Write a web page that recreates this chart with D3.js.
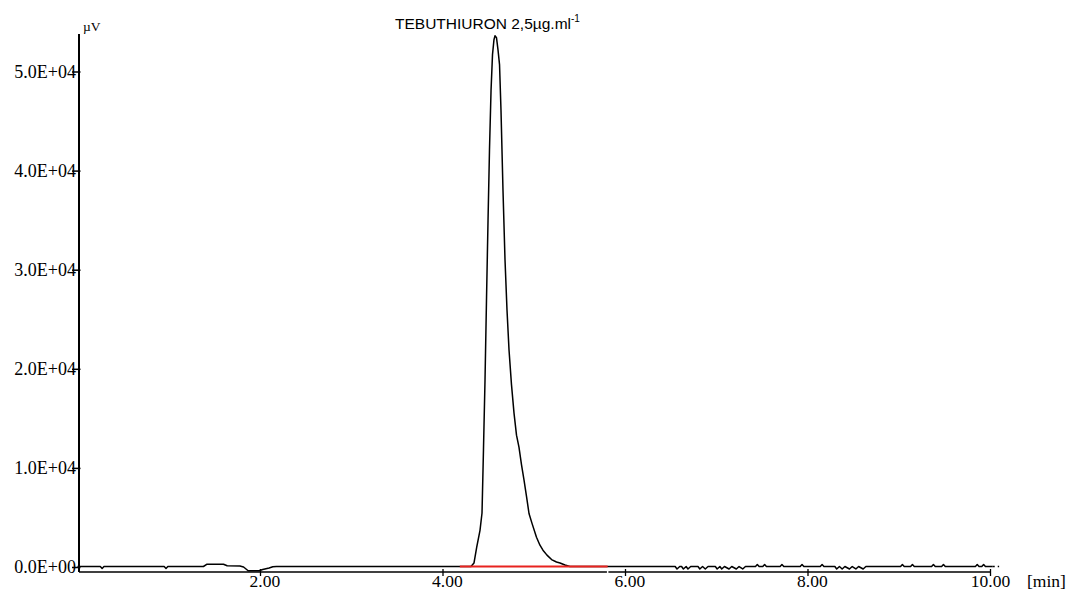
<!DOCTYPE html>
<html>
<head>
<meta charset="utf-8">
<script src="https://cdn.jsdelivr.net/npm/d3@7"></script>
<style>
  body { margin: 0; background: #fff; }
  svg { display: block; }
  .tick-label { font-family: "Liberation Serif", "Times New Roman", serif; font-size: 17.5px; fill: #000; }
  .y-label { font-size: 18px; }
</style>
</head>
<body>
<div id="chart"></div>
<script>
// chromatogram trace (min, µV)
const retentionTime = [
  0.00, 0.25, 0.27, 0.29, 0.95, 0.97, 0.99,
  1.38, 1.42, 1.60, 1.64, 1.78, 1.82, 1.87, 1.99, 2.03, 2.10, 2.14, 2.18,
  4.30, 4.312, 4.345, 4.375, 4.411, 4.433, 4.449, 4.466, 4.482, 4.499, 4.515,
  4.532, 4.548, 4.564, 4.575, 4.592, 4.608, 4.625, 4.641, 4.663, 4.685, 4.707,
  4.729, 4.756, 4.784, 4.811, 4.838, 4.866, 4.893, 4.921, 4.948, 4.981, 5.030,
  5.068, 5.101, 5.145, 5.195, 5.249, 5.288, 5.342, 5.397, 5.45,
  6.55, 6.57, 6.60, 6.62, 6.64, 6.67, 6.69, 6.72, 6.80, 6.82, 6.85, 6.88, 6.91,
  6.99, 7.01, 7.04, 7.06, 7.09, 7.14, 7.17, 7.22, 7.25, 7.29, 7.32,
  7.43, 7.45, 7.47, 7.51, 7.53, 7.55, 7.70, 7.72, 7.74, 7.92, 7.94, 7.96,
  8.14, 8.16, 8.18, 8.30, 8.32, 8.35, 8.38, 8.41, 8.46, 8.49, 8.53, 8.56, 8.61, 8.64,
  9.02, 9.04, 9.06, 9.13, 9.15, 9.17, 9.36, 9.38, 9.40, 9.47, 9.49, 9.51,
  9.84, 9.86, 9.88, 9.91, 9.93, 9.95, 10.03
];
const signal = [
  50, 50, -150, 50, 50, -150, 50,
  50, 280, 280, 120, 100, 0, -380, -380, -250, -100, 30, 50,
  50, 60, 400, 2000, 3700, 5450, 11800, 18900, 26900, 35000, 42100,
  48100, 51700, 53200, 53600, 53400, 52200, 50700, 46100, 38000, 31000, 25900,
  21900, 18400, 15500, 13300, 12100, 10300, 8800, 7100, 5400, 4400, 3000,
  2200, 1700, 1200, 750, 500, 400, 200, 60, 50,
  50, -200, 50, 50, -200, 50, -200, 50, 50, -200, 50, -200, 50,
  50, -200, 50, -200, 50, -200, 50, -200, 50, -200, 50,
  50, 250, 50, 50, 250, 50, 50, 250, 50, 50, 250, 50,
  50, 250, 50, 50, -200, 50, -200, 50, -200, 50, -200, 50, -200, 50,
  50, 250, 50, 50, 250, 50, 50, 250, 50, 50, 250, 50,
  50, 250, 50, 50, 250, 50, 50
];
const tailTime = [10.03, 10.10];
const tailSignal = [50, 50];

const integrationWindow = [4.19, 5.81];
const integrationLevel = [50, 50];

const yTickValues = [0, 10000, 20000, 30000, 40000, 50000];
const yTickLabels = ['0.0E+00', '1.0E+04', '2.0E+04', '3.0E+04', '4.0E+04', '5.0E+04'];
const xTickValues = [2, 4, 6, 8, 10];
const xTickLabels = ['2.00', '4.00', '6.00', '8.00', '10.00'];

const width = 1069, height = 591;
const axisLeftX = 79, axisTopY = 34, axisBottomY = 572, axisRightX = 990;

const svg = d3.select('#chart').append('svg')
    .attr('width', width)
    .attr('height', height);

const x = d3.scaleLinear().domain([0, 10]).range([77.5, 990]);
const y = d3.scaleLinear().domain([0, 50000]).range([567, 71.5]);

// y axis
const yAxis = svg.append('g')
    .attr('transform', 'translate(' + axisLeftX + ',0)')
    .call(d3.axisLeft(y)
      .tickValues(yTickValues)
      .tickFormat((d, i) => yTickLabels[i])
      .tickSizeInner(7)
      .tickSizeOuter(0)
      .tickPadding(-4));
yAxis.select('.domain').remove();
yAxis.selectAll('.tick line').attr('x2', 1.5).attr('x1', -7).attr('stroke', '#000').attr('stroke-width', 1.5);
yAxis.selectAll('.tick text').attr('class', 'tick-label y-label').attr('font-family', null).attr('font-size', null);

// x axis
const xAxis = svg.append('g')
    .attr('transform', 'translate(0,' + axisBottomY + ')')
    .call(d3.axisBottom(x)
      .tickValues(xTickValues)
      .tickFormat((d, i) => xTickLabels[i])
      .tickSizeInner(4)
      .tickSizeOuter(0)
      .tickPadding(3));
xAxis.select('.domain').remove();
xAxis.selectAll('.tick line').attr('y1', -3).attr('stroke', '#000').attr('stroke-width', 1.3);
xAxis.selectAll('.tick text')
    .attr('class', 'tick-label')
    .attr('font-family', null).attr('font-size', null)
    .attr('text-anchor', 'start')
    .attr('dy', null)
    .attr('y', 15)
    .each(function(d, i) {
      // line the decimal point up with the tick
      const label = xTickLabels[i];
      const dot = label.indexOf('.');
      const before = this.getSubStringLength(0, dot);
      const dotW = this.getSubStringLength(dot, 1);
      d3.select(this).attr('x', -(before + dotW / 2));
    });

// axis lines
svg.append('line')
    .attr('x1', axisLeftX).attr('x2', axisLeftX)
    .attr('y1', axisTopY).attr('y2', axisBottomY)
    .attr('stroke', '#000').attr('stroke-width', 2);
svg.append('line')
    .attr('x1', axisLeftX).attr('x2', axisRightX)
    .attr('y1', axisBottomY).attr('y2', axisBottomY)
    .attr('stroke', '#000').attr('stroke-width', 1.5);

// unit labels
svg.append('text')
    .attr('x', 83).attr('y', 31)
    .attr('font-family', '"Liberation Serif", "Times New Roman", serif')
    .attr('font-size', 13.5)
    .text('\u00b5V');
svg.append('text')
    .attr('class', 'tick-label')
    .attr('x', 1027).attr('y', 587)
    .text('[min]');

// title
const title = svg.append('text')
    .attr('x', 395).attr('y', 29)
    .attr('font-family', '"Liberation Sans", Arial, sans-serif')
    .attr('font-size', 15.5)
    .text('TEBUTHIURON 2,5\u00b5g.ml');
title.append('tspan')
    .attr('dy', -7)
    .attr('font-size', 10)
    .text('-1');

// trace
const line = d3.line()
    .x(d => x(d[0]))
    .y(d => y(d[1]));

svg.append('path')
    .datum(d3.zip(retentionTime, signal))
    .attr('d', line)
    .attr('fill', 'none')
    .attr('stroke', '#000')
    .attr('stroke-width', 1.5)
    .attr('stroke-linejoin', 'round');

svg.append('path')
    .datum(d3.zip(tailTime, tailSignal))
    .attr('d', line)
    .attr('fill', 'none')
    .attr('stroke', '#000')
    .attr('stroke-width', 1.5)
    .attr('stroke-dasharray', '2,3');

// integration baseline drawn over the trace
svg.append('path')
    .datum(d3.zip(integrationWindow, integrationLevel))
    .attr('d', line)
    .attr('fill', 'none')
    .attr('stroke', '#e8231f')
    .attr('stroke-width', 2);

// end-of-peak marker
svg.append('line')
    .attr('x1', x(integrationWindow[1])).attr('x2', x(integrationWindow[1]))
    .attr('y1', y(integrationLevel[1]) + 2).attr('y2', axisBottomY + 3)
    .attr('stroke', '#fff').attr('stroke-width', 1.5);
</script>
</body>
</html>
